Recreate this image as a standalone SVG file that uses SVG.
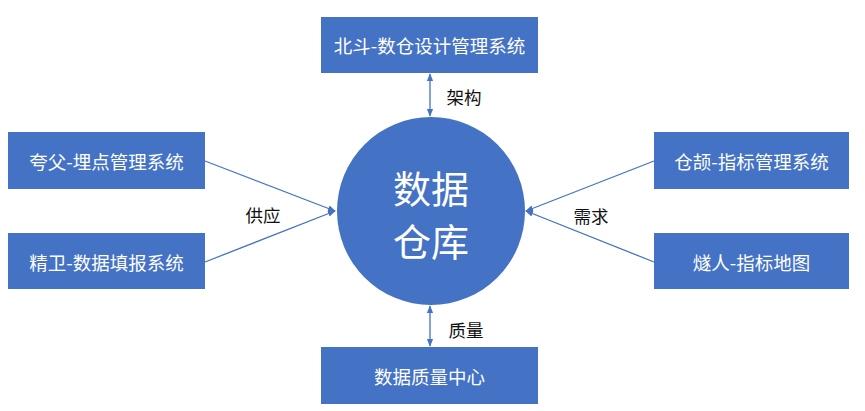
<svg xmlns="http://www.w3.org/2000/svg" width="865" height="411" viewBox="0 0 865 411">
<style>
.box{fill:#4472C4;}
.bt{fill:#fff;font-family:"Noto Sans CJK SC","Liberation Sans",sans-serif;font-size:18.5px;text-anchor:middle;dominant-baseline:central;}
.lbl{fill:#111;font-family:"Noto Sans CJK SC","Liberation Sans",sans-serif;font-size:17.5px;text-anchor:middle;dominant-baseline:central;}
.ct{fill:#fff;font-family:"Noto Sans CJK SC","Liberation Sans",sans-serif;font-size:38px;text-anchor:middle;dominant-baseline:central;}
.ln{stroke:#4472C4;stroke-width:1.3;fill:none;}
</style>
<defs>
<marker id="ah" viewBox="0 0 10 10" refX="9" refY="5" markerWidth="6" markerHeight="6" orient="auto-start-reverse">
<path d="M0,1 L10,5 L0,9 z" fill="#4472C4"/>
</marker>
</defs>
<rect width="865" height="411" fill="#fff"/>
<g id="connectors">
<line class="ln" x1="430" y1="74" x2="430" y2="116" marker-start="url(#ah)" marker-end="url(#ah)"/>
<line class="ln" x1="430" y1="306" x2="430" y2="346" marker-start="url(#ah)" marker-end="url(#ah)"/>
<line class="ln" x1="205" y1="161" x2="335" y2="211" marker-end="url(#ah)"/>
<line class="ln" x1="205" y1="262" x2="335" y2="211" marker-end="url(#ah)"/>
<line class="ln" x1="654" y1="161" x2="526" y2="211" marker-end="url(#ah)"/>
<line class="ln" x1="654" y1="262" x2="526" y2="211" marker-end="url(#ah)"/>
<text class="lbl" x="464" y="96">架构</text>
<text class="lbl" x="263" y="214">供应</text>
<text class="lbl" x="591" y="215">需求</text>
<text class="lbl" x="466" y="329">质量</text>
</g>
<g id="center">
<circle cx="431" cy="211" r="94" fill="#4472C4"/>
<text class="ct" x="431" y="186">数据</text>
<text class="ct" x="431" y="239">仓库</text>
</g>
<g id="top">
<rect class="box" x="321" y="17" width="217" height="56"/>
<text class="bt" x="429.5" y="45">北斗-数仓设计管理系统</text>
</g>
<g id="bottom">
<rect class="box" x="321" y="347" width="217" height="57"/>
<text class="bt" x="429.5" y="376">数据质量中心</text>
</g>
<g id="left1">
<rect class="box" x="8" y="132" width="197" height="57"/>
<text class="bt" x="106.5" y="161">夸父-埋点管理系统</text>
</g>
<g id="left2">
<rect class="box" x="8" y="233" width="197" height="56"/>
<text class="bt" x="106.5" y="262">精卫-数据填报系统</text>
</g>
<g id="right1">
<rect class="box" x="654" y="132" width="195" height="57"/>
<text class="bt" x="751.5" y="161">仓颉-指标管理系统</text>
</g>
<g id="right2">
<rect class="box" x="654" y="233" width="195" height="56"/>
<text class="bt" x="751.5" y="262">燧人-指标地图</text>
</g>
</svg>
